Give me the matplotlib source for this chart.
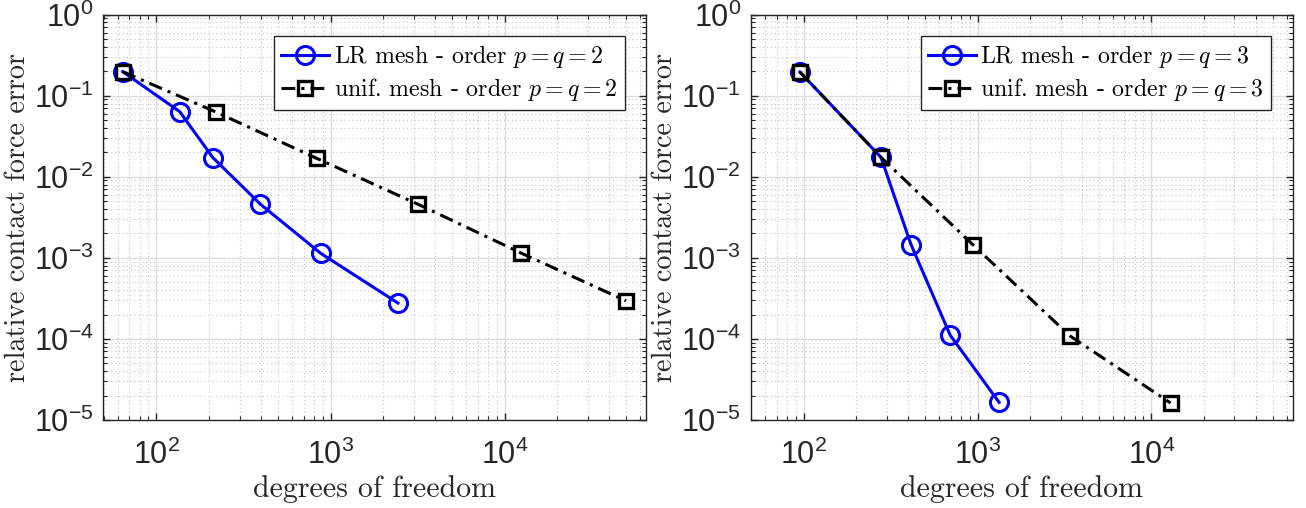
import numpy as np
import matplotlib
matplotlib.use("Agg")
import matplotlib.pyplot as plt
from matplotlib.ticker import LogLocator, NullFormatter

# ---------- données ----------
dof_lr_2 = [64, 136, 211, 396, 877, 2440]
err_lr_2 = [0.198, 0.0636, 0.0172, 0.00458, 0.00114, 0.000277]
dof_unif_2 = [64, 221, 832, 3170, 12400, 49900]
err_unif_2 = [0.198, 0.0625, 0.0169, 0.0046, 0.00115, 0.000295]

dof_lr_3 = [95, 278, 414, 696, 1330]
err_lr_3 = [0.196, 0.0174, 0.00146, 0.000111, 1.65e-5]
dof_unif_3 = [95, 278, 944, 3400, 12900]
err_unif_3 = [0.196, 0.0174, 0.00144, 0.000109, 1.62e-5]

orders = [2, 3]
xlabel = "degrees of freedom"
ylabel = "relative contact force error"

plt.rcParams["mathtext.fontset"] = "custom"
plt.rcParams["mathtext.rm"] = "Liberation Sans"
plt.rcParams["mathtext.it"] = "Liberation Sans:italic"
plt.rcParams["font.family"] = ["Liberation Sans", "DejaVu Sans"]

SERIF = "cmr10"
EDGE = "#262626"

fig = plt.figure(figsize=(13.06, 5.08), dpi=100)
ax1 = fig.add_axes([0.0791, 0.1732, 0.4156, 0.798])
ax2 = fig.add_axes([0.5748, 0.1732, 0.4150, 0.798])

data = [
    (ax1, dof_lr_2, err_lr_2, dof_unif_2, err_unif_2, orders[0]),
    (ax2, dof_lr_3, err_lr_3, dof_unif_3, err_unif_3, orders[1]),
]

for ax, x_lr, y_lr, x_un, y_un, p in data:
    ax.loglog(x_lr, y_lr, "-o", color="#0000ff", lw=2.2, ms=13, mew=2.2,
              mfc="none", label=f"LR mesh - order $p=q={p}$", zorder=3)
    ax.loglog(x_un, y_un, color="black", lw=2.2, ls=(0, (4.5, 2, 1, 2)),
              marker="s", ms=9.5, mew=2.4, mfc="none",
              label=f"unif. mesh - order $p=q={p}$", zorder=4)
    ax.set_xlim(49.5, 6.5e4)
    ax.set_ylim(1e-5, 1)
    ax.xaxis.set_major_locator(LogLocator(base=10, numticks=10))
    ax.yaxis.set_major_locator(LogLocator(base=10, numticks=10))
    ax.xaxis.set_minor_locator(LogLocator(base=10, subs=np.arange(2, 10), numticks=20))
    ax.yaxis.set_minor_locator(LogLocator(base=10, subs=np.arange(2, 10), numticks=20))
    ax.xaxis.set_minor_formatter(NullFormatter())
    ax.yaxis.set_minor_formatter(NullFormatter())
    ax.grid(True, which="major", color="#dcdcdc", lw=1, ls="-")
    ax.grid(True, which="minor", color="#c4c4c4", lw=0.8, ls=(0, (1, 2.5)))
    ax.set_axisbelow(True)
    ax.tick_params(which="both", direction="in", top=True, right=True,
                   colors=EDGE, labelcolor="#262626", labelsize=22)
    ax.tick_params(which="major", length=5, width=1)
    ax.tick_params(axis="x", which="major", pad=14)
    ax.tick_params(axis="y", which="major", pad=7)
    ax.tick_params(which="minor", length=3, width=0.8)
    for s in ax.spines.values():
        s.set_color(EDGE)
        s.set_linewidth(1)
    ax.set_xlabel(xlabel, fontfamily=SERIF, fontsize=21.5, color="#262626", labelpad=3)
    ax.set_ylabel(ylabel, fontfamily=SERIF, fontsize=20.3, color="#262626", labelpad=2)
    leg = ax.legend(loc="upper right", prop={"family": SERIF, "size": 17.2},
                    fancybox=False, framealpha=1, edgecolor=EDGE,
                    handlelength=2.0, handletextpad=0.2, borderpad=0.3,
                    labelspacing=0.25, borderaxespad=0.9, numpoints=1)
    leg.get_frame().set_linewidth(1)
    for t in leg.get_texts():
        t.set_math_fontfamily("cm")

fig.savefig("out.png", dpi=100)
